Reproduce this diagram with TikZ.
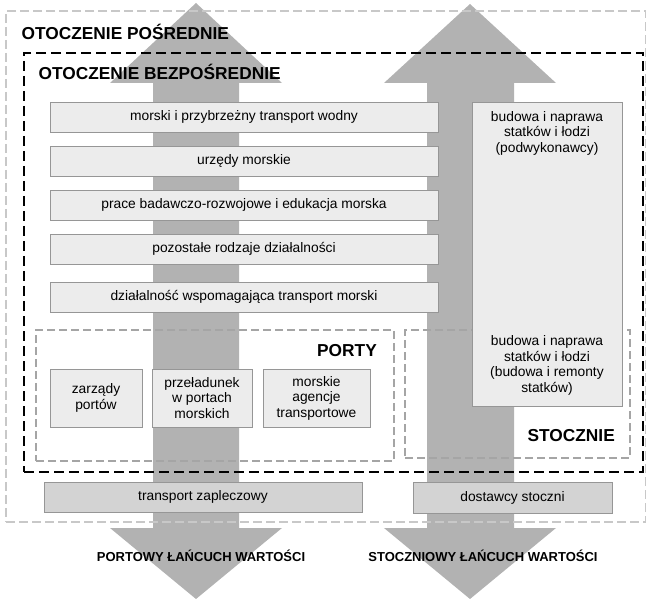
\documentclass[tikz,border=0pt]{standalone}
\usepackage{fontspec}
\setmainfont{Liberation Sans}
\definecolor{arrowgray}{RGB}{178,178,178}
\definecolor{boxfill}{RGB}{236,236,236}
\definecolor{boxdraw}{RGB}{150,150,150}
\definecolor{darkfill}{RGB}{211,211,211}
\definecolor{outerdash}{RGB}{200,200,200}
\definecolor{innerdash}{RGB}{165,165,165}
\begin{document}
\begin{tikzpicture}[x=1pt,y=-1pt,
  lbox/.style={draw=boxdraw,fill=boxfill,line width=0.9pt,inner sep=1pt,align=center,
    font=\fontsize{13.8}{15.5}\selectfont},
  dbox/.style={lbox,fill=darkfill},
  outerframe/.style={draw=outerdash,line width=1.5pt,dash pattern=on 9pt off 4pt,inner sep=0pt},
  blackframe/.style={draw=black,line width=1.8pt,dash pattern=on 10pt off 5pt,inner sep=0pt},
  greyframe/.style={draw=innerdash,line width=1.3pt,dash pattern=on 8pt off 4pt,inner sep=0pt},
  bigtitle/.style={font=\fontsize{17.3}{20}\selectfont\bfseries,inner sep=0pt},
  chaintitle/.style={font=\fontsize{13}{15}\selectfont\bfseries,inner sep=0pt},
  plaintext/.style={align=center,inner sep=0pt,font=\fontsize{13.8}{15.5}\selectfont}
]
\useasboundingbox (0,0) rectangle (646,599);
% value chain arrows
\fill[arrowgray] (153,83) -- (110,83) -- (196,3) -- (282,83) -- (239,83) -- (239,528)
  -- (282,528) -- (196,599) -- (110,528) -- (153,528) -- cycle;
\fill[arrowgray] (427,83) -- (384,83) -- (470,4) -- (556,83) -- (514,83) -- (514,528)
  -- (556,528) -- (470,599) -- (384,528) -- (427,528) -- cycle;
% frames
\node[outerframe,minimum width=640pt,minimum height=511pt] (outer) at (326,266.5) {};
\node[blackframe,minimum width=619pt,minimum height=419pt] (inner) at (333.5,262.5) {};
\node[greyframe,minimum width=358pt,minimum height=131pt] (portyframe) at (215,395.5) {};
\node[greyframe,minimum width=225pt,minimum height=128pt] (stoczframe) at (517.5,394) {};
% titles
\node[bigtitle,anchor=base west] (tpos) at (21.5,39.3) {OTOCZENIE POŚREDNIE};
\node[bigtitle,anchor=base west] (tbez) at (38.5,79.3) {OTOCZENIE BEZPOŚREDNIE};
\node[bigtitle,anchor=base east] (tporty) at (377,356.3) {PORTY};
\node[bigtitle,anchor=base east] (tstocz) at (615,441.3) {STOCZNIE};
% left column boxes
\node[lbox,minimum width=388pt,minimum height=30pt] (m1) at (244,117) {morski i przybrzeżny transport wodny};
\node[lbox,minimum width=388pt,minimum height=30pt] (m2) at (244,161) {urzędy morskie};
\node[lbox,minimum width=388pt,minimum height=30pt] (m3) at (244,205) {prace badawczo-rozwojowe i edukacja morska};
\node[lbox,minimum width=388pt,minimum height=30pt] (m4) at (244,249) {pozostałe rodzaje działalności};
\node[lbox,minimum width=388pt,minimum height=30pt] (m5) at (244,297) {działalność wspomagająca transport morski};
% ports
\node[lbox,minimum width=92pt,minimum height=58pt] (p1) at (96,398) {zarządy\\portów};
\node[lbox,minimum width=100pt,minimum height=58pt] (p2) at (202,398) {przeładunek\\w portach\\morskich};
\node[lbox,minimum width=107pt,minimum height=58pt] (p3) at (316.5,398) {morskie\\agencje\\transportowe};
% shipyard tall box
\node[lbox,minimum width=150pt,minimum height=304pt] (tall) at (547,254) {};
\node[plaintext] (tall1) at (547,133) {budowa i naprawa\\statków i łodzi\\(podwykonawcy)};
\node[plaintext] (tall2) at (547,365.5) {budowa i naprawa\\statków i łodzi\\(budowa i remonty\\statków)};
% bottom boxes
\node[dbox,minimum width=318pt,minimum height=30pt] (hinter) at (203,497) {transport zapleczowy};
\node[dbox,minimum width=199pt,minimum height=31pt] (suppl) at (512.5,497.5) {dostawcy stoczni};
% chain labels
\node[chaintitle,anchor=base] (pchain) at (201,561.7) {PORTOWY ŁAŃCUCH WARTOŚCI};
\node[chaintitle,anchor=base] (schain) at (483,561.7) {STOCZNIOWY ŁAŃCUCH WARTOŚCI};
\end{tikzpicture}
\end{document}
